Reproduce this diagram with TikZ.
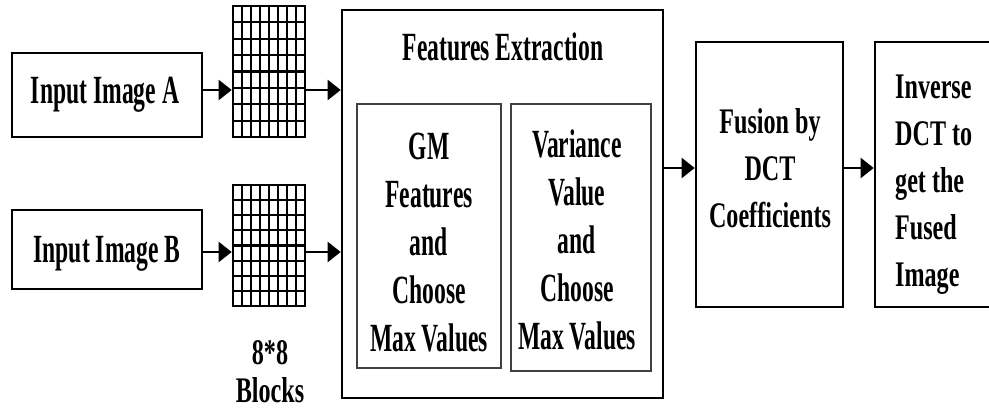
\documentclass[tikz,border=0pt]{standalone}
\usepackage{fontspec}
\setmainfont{Liberation Serif}
\newfontfamily\fa[FakeStretch=0.59]{Liberation Serif}
\newfontfamily\fb[FakeStretch=0.67]{Liberation Serif}
\usetikzlibrary{arrows.meta}
\begin{document}
\begin{tikzpicture}[x=1pt,y=-1pt,
  box/.style={draw=black,line width=2.6pt,inner sep=0pt,fill=white},
  inbox/.style={draw=black!75,line width=1.4pt,inner sep=0pt},
  txta/.style={inner sep=0pt,font=\fa\bfseries\fontsize{40}{48}\selectfont,align=center},
  txtb/.style={inner sep=0pt,font=\fb\bfseries\fontsize{36}{47}\selectfont},
  gbox/.style={draw=black,line width=2.6pt,inner sep=0pt},
  gl/.style={line width=2.2pt},
  arr/.style={line width=2.2pt,-{Triangle[length=13pt,width=20pt]}}]
\useasboundingbox (0,0) rectangle (989,411);
\clip (0,0) rectangle (989,411);
\fill[white] (0,0) rectangle (989,411);
% input boxes
\node[box,minimum width=190pt,minimum height=84pt] (A) at (107,95) {};
\node[box,minimum width=190pt,minimum height=79pt] (B) at (107,249.5) {};
\node[txta,anchor=base] (At) at (105,104) {Input Image A};
\node[txta,anchor=base] (Bt) at (107,263) {Input Image B};
% grids
\node[gbox,minimum width=72pt,minimum height=131pt] (gA) at (269,71.5) {};
\node[gbox,minimum width=72pt,minimum height=121pt] (gB) at (269,245.5) {};
\foreach \i in {1,...,7}{
  \draw[gl] ({233+9*\i},6) -- ({233+9*\i},137);
  \draw[gl] (233,{6+\i*131/8}) -- (305,{6+\i*131/8});
  \draw[gl] ({233+9*\i},185) -- ({233+9*\i},306);
  \draw[gl] (233,{185+\i*121/8}) -- (305,{185+\i*121/8});
}
\node[txtb,align=center,anchor=north,font=\fb\bfseries\fontsize{36}{38}\selectfont] (bl) at (270,340) {8*8\\Blocks};
% features extraction
\node[box,minimum width=321pt,minimum height=388pt] (FE) at (502.5,204) {};
\node[txta,anchor=north] (FEt) at (503,33) {Features Extraction};
\node[inbox,minimum width=144pt,minimum height=264pt] (GM) at (429,236) {};
\node[inbox,minimum width=140pt,minimum height=267pt] (VR) at (581,237.5) {};
\node[txta,anchor=north] (GMt) at (429,133) {GM\\Features\\and\\Choose\\Max Values};
\node[txta,anchor=north] (VRt) at (577,130) {Variance\\Value\\and\\Choose\\Max Values};
% fusion and inverse
\node[box,minimum width=147pt,minimum height=265pt] (F) at (769.5,174.5) {};
\node[box,minimum width=125pt,minimum height=265pt] (INV) at (937.5,174.5) {};
\node[txtb,align=center,anchor=north] (Ft) at (770,108) {Fusion by\\DCT\\Coefficients};
\node[txtb,align=left,anchor=north west] (INVt) at (895,75) {Inverse\\DCT to\\get the\\Fused\\Image};
% connectors
\coordinate (ya) at (0,90);
\coordinate (yb) at (0,252);
\coordinate (yf) at (0,168);
\draw[arr] (A.east |- ya) -- (gA.west |- ya);
\draw[arr] (gA.east |- ya) -- (FE.west |- ya);
\draw[arr] (B.east |- yb) -- (gB.west |- yb);
\draw[arr] (gB.east |- yb) -- (FE.west |- yb);
\draw[arr] (FE.east |- yf) -- (F.west |- yf);
\draw[arr] (F.east |- yf) -- (INV.west |- yf);
\end{tikzpicture}
\end{document}
